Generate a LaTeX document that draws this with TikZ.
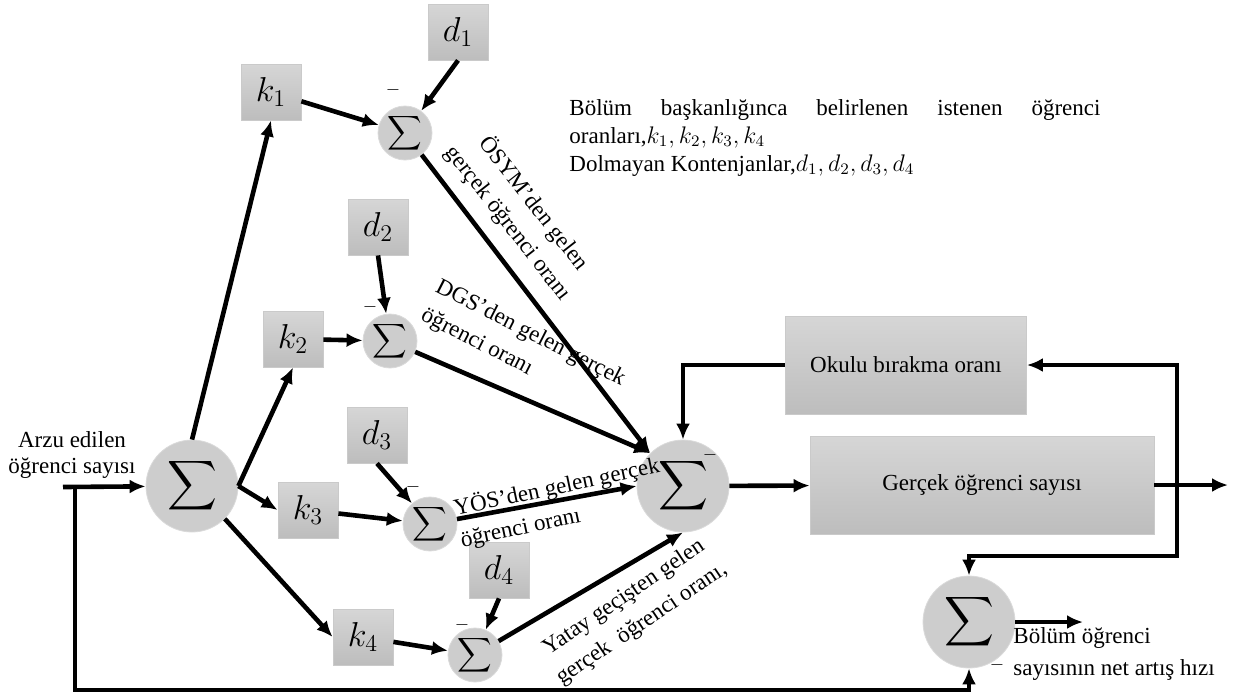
\documentclass[tikz,border=0pt]{standalone}
\usepackage{fontspec}
\usepackage{exscale}
\setmainfont{Liberation Serif}
\usetikzlibrary{arrows.meta}
\definecolor{BoxTop}{HTML}{D6D6D6}
\definecolor{BoxBot}{HTML}{BDBDBD}
\definecolor{BoxLine}{HTML}{CACACA}
\definecolor{SumFill}{HTML}{CDCDCD}
\definecolor{SumLine}{HTML}{DADADA}

\begin{document}
\begin{tikzpicture}[x=0.5pt, y=-0.5pt,
          font=\fontsize{11.5}{13.2}\selectfont,
          gain/.style={draw=BoxLine, top color=BoxTop, bottom color=BoxBot, minimum width=30pt, minimum height=28pt, inner sep=0pt, font=\fontsize{17}{17}\selectfont},
          block/.style={gain, minimum height=49pt, font=\fontsize{11.5}{13.2}\selectfont},
          sumsmall/.style={circle, draw=SumLine, fill=SumFill, minimum size=27pt, inner sep=0pt, font=\fontsize{11.5}{11.5}\selectfont},
          sumbig/.style={sumsmall, minimum size=46pt, font=\fontsize{17}{17}\selectfont},
          arr/.style={-{Latex[length=8pt,width=7pt]}, line width=2.3pt},
          flow/.style={inner sep=0pt, font=\fontsize{11.5}{13}\selectfont},
          minus/.style={inner sep=0pt, font=\fontsize{9}{9}\selectfont}
        ]
          \useasboundingbox (0,0) rectangle (1235,698);

          % input and first summing point
          \node[align=center, inner sep=0pt] (arzu) at (72,455) {Arzu edilen\\öğrenci sayısı};
          \coordinate (in) at (63,487);
          \coordinate (j) at (75,487);
          \node[sumbig] (s0) at (192,486) {$\displaystyle\sum$};

          % gains
          \node[gain] (k1) at (271,92) {$k_1$};
          \node[gain] (k2) at (293,339) {$k_2$};
          \node[gain] (k3) at (308,510) {$k_3$};
          \node[gain] (k4) at (363,637) {$k_4$};

          % unfilled quotas
          \node[gain] (d1) at (458,32) {$d_1$};
          \node[gain] (d2) at (378,227) {$d_2$};
          \node[gain] (d3) at (377,435) {$d_3$};
          \node[gain] (d4) at (499,570) {$d_4$};

          % small summing points
          \node[sumsmall] (s1) at (405,133) {$\displaystyle\sum$};
          \node[sumsmall] (s2) at (390,341) {$\displaystyle\sum$};
          \node[sumsmall] (s3) at (430,524) {$\displaystyle\sum$};
          \node[sumsmall] (s4) at (475,655) {$\displaystyle\sum$};
          \node[minus] at (393,90) {$-$};
          \node[minus] at (370,307) {$-$};
          \node[minus] at (413,487) {$-$};
          \node[minus] at (462,625) {$-$};

          % main loop
          \node[sumbig] (s5) at (683,486) {$\displaystyle\sum$};
          \node[minus] at (710,455) {$-$};
          \node[block, minimum width=120.5pt] (okulu) at (906,365) {Okulu bırakma oranı};
          \node[block, minimum width=172pt] (gercek) at (982,485) {Gerçek öğrenci sayısı};
          \coordinate (out) at (1228,485);
          \coordinate (tap) at (1177,485);
          \coordinate (tapdn) at (1177,556);

          % net growth
          \node[sumbig] (sb) at (969,622) {$\displaystyle\sum$};
          \node[minus] at (997,665) {$-$};
          \coordinate (sbout) at (1083,622);
          \node[anchor=north west, align=left, inner sep=0pt, font=\fontsize{11.5}{16}\selectfont] (net) at (1013,627) {Bölüm öğrenci\\sayısının net artış hızı};
          \coordinate (fb) at (75,690);

          % note
          \node[anchor=north west, align=left, inner sep=0pt, font=\fontsize{11.5}{14}\selectfont] (note) at (569,99)
            {\hbox to 265.5pt{Bölüm\hfill başkanlığınca\hfill belirlenen\hfill istenen\hfill öğrenci}\\
             oranları,$k_1, k_2, k_3, k_4$\\
             Dolmayan Kontenjanlar,$d_1, d_2, d_3, d_4$};

          % connectors
          \draw[arr] (in) -- (s0);
          \draw[arr] (j) -- (fb) -| (sb.south);
          \draw[arr] (s0.north) -- (k1.south);
          \draw[arr] (s0.east) -- (k2.south);
          \draw[arr] (s0.east) -- (k3.west);
          \draw[arr] (s0.-45) -- (k4.west);
          \draw[arr] (k1) -- (s1);
          \draw[arr] (k2) -- (s2);
          \draw[arr] (k3) -- (s3);
          \draw[arr] (k4) -- (s4);
          \draw[arr] (d1.south) -- (s1);
          \draw[arr] (d2.south) -- (s2);
          \draw[arr] (d3.south) -- (s3);
          \draw[arr] (d4.south) -- (s4);
          \draw[arr] (s1) -- (s5.135);
          \draw[arr] (s2) -- (s5.135);
          \draw[arr] (s3) -- (s5.west);
          \draw[arr] (s4) -- (s5.south);
          \draw[arr] (s5) -- (gercek);
          \draw[arr] (gercek.east) -- (out);
          \draw[arr] (tap) |- (okulu.east);
          \draw[arr] (okulu.west) -| (s5.north);
          \draw[arr] (tap) -- (tapdn) -| (sb.north);
          \draw[arr] (sb.east) -- (sbout);

          % flow labels
          \node[flow, align=center, rotate=-52] at (521,213) {ÖSYM’den gelen\\[3pt]gerçek öğrenci oranı};
          \node[flow, align=left, rotate=-27] at (523,348) {DGS’den gelen gerçek\\[3pt]öğrenci oranı};
          \node[flow, align=left, rotate=12] at (560,503) {YÖS’den gelen gerçek\\[3pt]öğrenci oranı};
          \node[flow, align=center, rotate=34] at (633,611) {Yatay geçişten gelen\\[3pt]gerçek\ \ öğrenci oranı,};
        \end{tikzpicture}
\end{document}
